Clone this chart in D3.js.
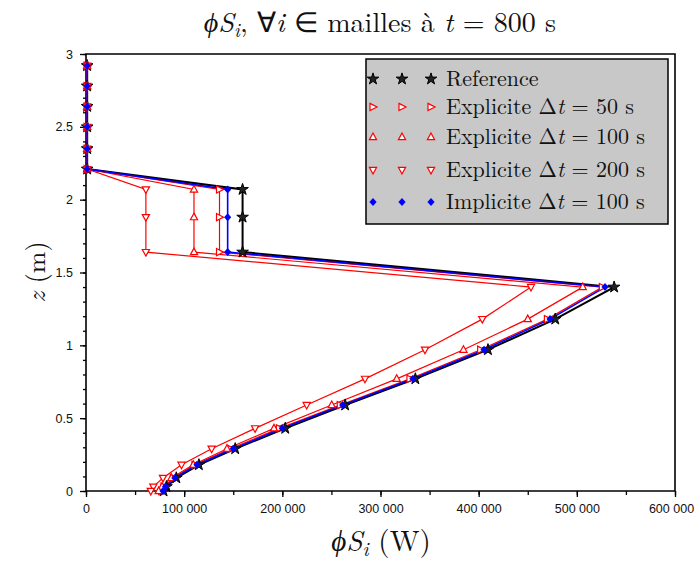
<!DOCTYPE html>
<html><head><meta charset="utf-8">
<script src="https://cdn.jsdelivr.net/npm/d3@7"></script>
<style>
html,body{margin:0;padding:0;background:#fff;}
svg{display:block;}
</style></head>
<body>
<svg id="chart" width="696" height="564"></svg>
<script>
// ---- data ----
const zLevels = [2.92, 2.78, 2.64, 2.50, 2.35, 2.21, 2.07, 1.88, 1.64, 1.40, 1.18, 0.97, 0.77, 0.59, 0.43, 0.29, 0.18, 0.09, 0.03, 0.0];
const reference  = [1200, 1200, 1200, 1200, 1200, 1200, 159500, 159500, 159500, 538000, 478000, 409500, 335500, 264000, 203000, 152000, 115000, 92000, 82000, 79000];
const explicit50 = [1200, 1200, 1200, 1200, 1200, 1200, 136000, 136000, 136000, 526000, 470000, 402000, 330000, 259000, 197000, 147000, 111000, 89000, 79500, 77000];
const explicit100= [1200, 1200, 1200, 1200, 1200, 1200, 110000, 110000, 110000, 506000, 450000, 384500, 316500, 250300, 191500, 143600, 109300, 87000, 77500, 74000];
const explicit200= [1200, 1200, 1200, 1200, 1200, 1200, 61000, 61000, 61000, 453300, 403700, 345300, 284200, 224800, 172200, 128000, 97300, 78400, 68600, 66000];
const implicit100= [1200, 1200, 1200, 1200, 1200, 1200, 144300, 144300, 144300, 528700, 472700, 405500, 333000, 261500, 200000, 150000, 113000, 90500, 81000, 78500];
const xTicks = [0, 100000, 200000, 300000, 400000, 500000, 600000];
const yTicks = [0, 0.5, 1, 1.5, 2, 2.5, 3];
const seriesNames = ["Reference", "Explicite \u0394t = 50 s", "Explicite \u0394t = 100 s", "Explicite \u0394t = 200 s", "Implicite \u0394t = 100 s"];

const svg = d3.select("#chart");
const L = 86, R = 675, T = 54, B = 491;
const x = d3.scaleLinear().domain([0, 600000]).range([L, R]);
const y = d3.scaleLinear().domain([0, 3]).range([B, T]);

// ---- axes ----
const fmt = v => d3.format(",")(v).replace(/,/g, " ");
const xMinor = d3.range(0, 600001, 50000);
const yMinor = d3.range(0, 31).map(i => i / 10);
const styleAxis = g => {
  g.select(".domain").remove();
  g.selectAll("line").attr("stroke", "#000").attr("stroke-width", 1.3);
  g.selectAll("text").attr("font-family", "'Liberation Sans',Arial,sans-serif").attr("font-size", 12.5).attr("fill", "#111");
};

svg.append("g").attr("transform", `translate(0,${B})`)
  .call(d3.axisBottom(x).tickValues(xMinor).tickSize(4).tickFormat(""))
  .call(styleAxis);
svg.append("g").attr("transform", `translate(0,${B})`)
  .call(d3.axisBottom(x).tickValues(xTicks).tickSize(6).tickPadding(7).tickFormat(fmt))
  .call(styleAxis)
  .call(g => g.selectAll("text").filter(d => d === 600000).attr("dx", -4));
svg.append("g").attr("transform", `translate(${L},0)`)
  .call(d3.axisLeft(y).tickValues(yMinor).tickSize(3).tickFormat(""))
  .call(styleAxis);
svg.append("g").attr("transform", `translate(${L},0)`)
  .call(d3.axisLeft(y).tickValues(yTicks).tickSize(6).tickPadding(7).tickFormat(d3.format("")))
  .call(styleAxis);

// frame
svg.append("path")
  .attr("d", `M${L},${B}V${T}H${R}V${B}H${L}`)
  .attr("fill", "none").attr("stroke", "#000").attr("stroke-width", 1.6);

// ---- markers ----
const triRight = "M-3,-3.6L4,0L-3,3.6Z";
const triUp = "M0,-4L3.6,2.6L-3.6,2.6Z";
const triDown = "M0,4L3.6,-2.6L-3.6,-2.6Z";
const star = d3.symbol().type(d3.symbolStar).size(42)();
const diamond = "M0,-4L3.6,0L0,4L-3.6,0Z";

const series = [
  {name: seriesNames[0], vals: reference,   color: "#000", lw: 2,   marker: star,     fill: "#222", mstroke: 1},
  {name: seriesNames[1], vals: explicit50,  color: "#ff0000", lw: 1.2, marker: triRight, fill: "#fff", mstroke: 1.2},
  {name: seriesNames[2], vals: explicit100, color: "#ff0000", lw: 1.2, marker: triUp,    fill: "#fff", mstroke: 1.2},
  {name: seriesNames[3], vals: explicit200, color: "#ff0000", lw: 1.2, marker: triDown,  fill: "#fff", mstroke: 1.2},
  {name: seriesNames[4], vals: implicit100, color: "#0000ff", lw: 1.6, marker: diamond,  fill: "#0000ff", mstroke: 0}
];

const line = d3.line().x(d => x(d[0])).y(d => y(d[1]));
series.forEach(s => {
  const pts = s.vals.map((v, i) => [v, zLevels[i]]);
  svg.append("path").attr("d", line(pts)).attr("fill", "none")
    .attr("stroke", s.color).attr("stroke-width", s.lw);
});
series.forEach(s => {
  const pts = s.vals.map((v, i) => [v, zLevels[i]]);
  svg.append("g").selectAll("path").data(pts).join("path")
    .attr("d", s.marker)
    .attr("transform", d => `translate(${x(d[0])},${y(d[1])})`)
    .attr("fill", s.fill).attr("stroke", s.color).attr("stroke-width", s.mstroke);
});

// ---- legend ----
const serif = "'Latin Modern Roman','CMU Serif','Liberation Serif',serif";
const lg = svg.append("g");
lg.append("rect").attr("x", 366).attr("y", 59).attr("width", 302).attr("height", 165)
  .attr("fill", "#c8c8c8").attr("stroke", "#000").attr("stroke-width", 1.5);
const rowY = [79, 107, 137, 170, 202];
series.forEach((s, i) => {
  [373, 402, 431].forEach(mx => {
    lg.append("path").attr("d", s.marker).attr("transform", `translate(${mx},${rowY[i]})`)
      .attr("fill", s.fill).attr("stroke", s.color).attr("stroke-width", s.mstroke);
  });
  const t = lg.append("text").attr("x", 446).attr("y", rowY[i] + 7)
    .attr("font-family", serif).attr("font-size", 22).attr("fill", "#111");
  if (i === 0) { t.text(s.name); }
  else {
    const parts = s.name.split("\u0394t");
    t.append("tspan").text(parts[0] + "\u0394");
    t.append("tspan").attr("font-style", "italic").text("t");
    t.append("tspan").text(parts[1]);
  }
});

// ---- titles ----
const title = svg.append("text").attr("x", 380).attr("y", 32).attr("text-anchor", "middle")
  .attr("font-family", serif).attr("font-size", 28).attr("fill", "#111");
title.append("tspan").attr("font-style", "italic").text("\u03D5S");
title.append("tspan").attr("font-style", "italic").attr("font-size", 19).attr("baseline-shift", "-5").text("i");
title.append("tspan").text(", \u2200");
title.append("tspan").attr("font-style", "italic").text("i");
title.append("tspan").text(" \u2208 mailles \u00e0 ");
title.append("tspan").attr("font-style", "italic").text("t");
title.append("tspan").text(" = 800 s");

const xl = svg.append("text").attr("x", 381).attr("y", 551).attr("text-anchor", "middle")
  .attr("font-family", serif).attr("font-size", 29).attr("fill", "#111");
xl.append("tspan").attr("font-style", "italic").text("\u03D5S");
xl.append("tspan").attr("font-style", "italic").attr("font-size", 20).attr("baseline-shift", "-5").text("i");
xl.append("tspan").text(" (W)");

const yl = svg.append("text").attr("transform", "translate(45,272) rotate(-90)").attr("text-anchor", "middle")
  .attr("font-family", serif).attr("font-size", 26).attr("fill", "#111");
yl.append("tspan").attr("font-style", "italic").text("z");
yl.append("tspan").text(" (m)");
</script>
</body></html>
